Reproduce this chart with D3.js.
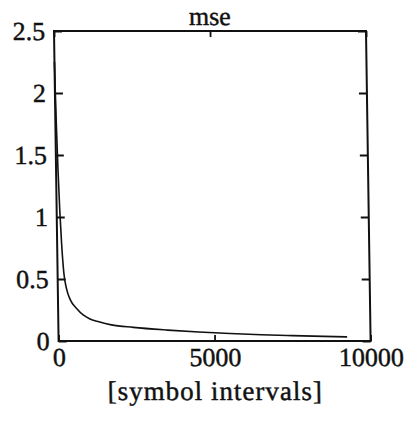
<!DOCTYPE html>
<html>
<head>
<meta charset="utf-8">
<script src="https://cdn.jsdelivr.net/npm/d3@7"></script>
<style>
  html, body { margin: 0; padding: 0; background: #fff; }
  svg text { font-family: "Liberation Serif", "DejaVu Serif", serif; fill: #111; }
</style>
</head>
<body>
<svg id="chart" width="411" height="429"></svg>
<script>
// Learning curve: mean squared error versus symbol intervals
const iterations = [0, 10, 30, 60, 100, 140, 200, 280, 400, 600, 800, 1000, 1300, 1700, 2400, 3500, 4500, 5500, 6500, 7500, 8500, 9250];
const mseValues  = [2.25, 2.05, 1.75, 1.4, 1.05, 0.8, 0.55, 0.42, 0.33, 0.26, 0.21, 0.18, 0.155, 0.13, 0.11, 0.088, 0.072, 0.06, 0.05, 0.043, 0.037, 0.033];
const xTicks = [0, 5000, 10000];
const yTicks = [0, 0.5, 1, 1.5, 2, 2.5];
const yTickLabels = ["0", "0.5", "1", "1.5", "2", "2.5"];
const titleText = "mse";
const xLabelText = "[symbol intervals]";

const plotLeft = 54, plotRight = 366, plotTop = 31, plotBottom = 341;

const svg = d3.select("#chart");
// slight slant of the whole figure
const g = svg.append("g")
  .attr("transform", `translate(0,${plotTop}) skewX(0.85) translate(0,${-plotTop})`);

const x = d3.scaleLinear().domain([0, 10000]).range([plotLeft, plotRight]);
const y = d3.scaleLinear().domain([0, 2.5]).range([plotBottom, plotTop]);

const fontSize = 26;

function inkText(sel) {
  sel.attr("fill", "#111").attr("stroke", "#111").attr("stroke-width", 0.45);
}

// frame
g.append("rect")
  .attr("x", plotLeft).attr("y", plotTop)
  .attr("width", plotRight - plotLeft).attr("height", plotBottom - plotTop)
  .attr("fill", "none").attr("stroke", "#111").attr("stroke-width", 2);

function styleAxis(sel, showLabels) {
  sel.select(".domain").remove();
  sel.attr("font-family", "Liberation Serif, serif");
  sel.selectAll(".tick line").attr("stroke", "#111").attr("stroke-width", 1.8);
  sel.selectAll(".tick text")
    .attr("font-size", fontSize)
    .attr("font-family", "Liberation Serif, serif")
    .call(inkText);
  if (!showLabels) sel.selectAll(".tick text").remove();
}

// left axis with labels, inward ticks
g.append("g").attr("transform", `translate(${plotLeft},0)`)
  .call(d3.axisLeft(y).tickValues(yTicks)
    .tickFormat((d, i) => yTickLabels[i])
    .tickSizeInner(-8).tickSizeOuter(0).tickPadding(9))
  .call(s => styleAxis(s, true));

// right axis, ticks only
g.append("g").attr("transform", `translate(${plotRight},0)`)
  .call(d3.axisRight(y).tickValues(yTicks).tickSizeInner(-8).tickSizeOuter(0))
  .call(s => styleAxis(s, false));

// bottom axis with labels
g.append("g").attr("transform", `translate(0,${plotBottom})`)
  .call(d3.axisBottom(x).tickValues(xTicks).tickFormat(d3.format("d"))
    .tickSizeInner(-6).tickSizeOuter(0).tickPadding(6.5))
  .call(s => styleAxis(s, true));

// top axis, ticks only
g.append("g").attr("transform", `translate(0,${plotTop})`)
  .call(d3.axisTop(x).tickValues(xTicks).tickSizeInner(-6).tickSizeOuter(0))
  .call(s => styleAxis(s, false));

// curve
const pts = iterations.map((d, i) => [d, mseValues[i]]);
g.append("path")
  .datum(pts)
  .attr("fill", "none")
  .attr("stroke", "#111")
  .attr("stroke-width", 1.6)
  .attr("d", d3.line().x(d => x(d[0])).y(d => y(d[1])).curve(d3.curveMonotoneX));

// title
g.append("text")
  .attr("x", (plotLeft + plotRight) / 2).attr("y", 25)
  .attr("text-anchor", "middle")
  .attr("font-size", fontSize)
  .call(inkText)
  .text(titleText);

// x-axis label
g.append("text")
  .attr("x", (plotLeft + plotRight) / 2).attr("y", 400)
  .attr("text-anchor", "middle")
  .attr("font-size", 27)
  .attr("letter-spacing", 1)
  .call(inkText)
  .text(xLabelText);
</script>
</body>
</html>
